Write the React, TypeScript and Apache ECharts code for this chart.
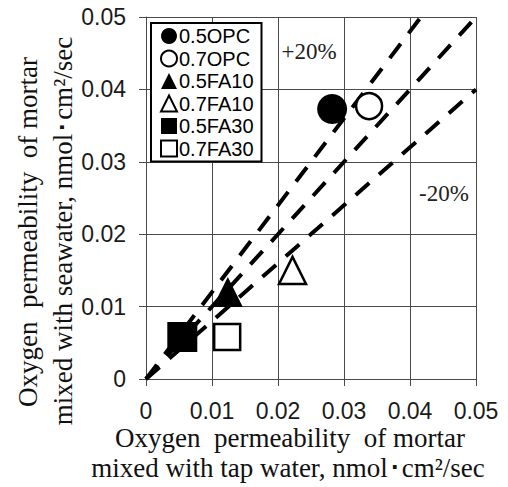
import React, { useEffect, useRef } from "react";
import * as echarts from "echarts";

// Mix names and measured oxygen permeability (nmol·cm²/sec)
const mixNames = ["0.5OPC", "0.7OPC", "0.5FA10", "0.7FA10", "0.5FA30", "0.7FA30"];
const tapWater = [0.0282, 0.0338, 0.0124, 0.0222, 0.0055, 0.0123];
const seawater = [0.0373, 0.0377, 0.012, 0.015, 0.0058, 0.0058];
const mixSymbols = ["circle", "circle", "triangle", "triangle", "rect", "rect"];
const mixFilled = [true, false, true, false, true, false];

// Reference lines: equality and ±20 %
const refSlopes = [1.2, 1.0, 0.8];
const axisMax = 0.05;
const axisStep = 0.01;

const serif = "'Liberation Serif', 'Times New Roman', serif";
const sans = "'Liberation Sans', Arial, sans-serif";

export default function App() {
  const ref = useRef<HTMLDivElement>(null);

  useEffect(() => {
    if (!ref.current) return;
    const chart = echarts.init(ref.current, undefined, { renderer: "svg" });

    const lineSeries = refSlopes.map((k) => ({
      type: "line",
      name: "ref" + k,
      data: [
        [0, 0],
        [Math.min(axisMax, axisMax / k), Math.min(axisMax, axisMax * k)],
      ],
      symbol: "none",
      silent: true,
      z: 1,
      lineStyle: { color: "#000", width: 4, type: [18, 13], cap: "butt", opacity: 1 },
    }));

    const scatterSeries = mixNames.map((name, i) => ({
      type: "scatter",
      name,
      symbol: mixSymbols[i],
      symbolSize: mixFilled[i] ? 30 : mixSymbols[i] === "triangle" ? 27 : 26,
      data: [[tapWater[i], seawater[i]]],
      z: 3,
      itemStyle: mixFilled[i]
        ? { color: "#000", borderColor: "#000", borderWidth: 0, opacity: 1 }
        : { color: "#fff", borderColor: "#000", borderWidth: 2.5, opacity: 1 },
    }));

    const axisCommon = {
      type: "value",
      min: 0,
      max: axisMax,
      interval: axisStep,
      axisLine: { show: true, lineStyle: { color: "#4a4a4a", width: 1 } },
      axisTick: { show: true, length: 7, inside: false, lineStyle: { color: "#4a4a4a" } },
      splitLine: { show: true, lineStyle: { color: "#4a4a4a", width: 1 } },
      axisLabel: {
        fontFamily: sans,
        fontSize: 23,
        color: "#1a1a1a",
        formatter: (v: number) => (v === 0 ? "0" : v.toFixed(2)),
      },
    };

    chart.setOption({
      animation: false,
      backgroundColor: "#fff",
      grid: { left: 146, right: 32, top: 17, bottom: 108, containLabel: false },
      xAxis: { ...axisCommon, axisLabel: { ...axisCommon.axisLabel, margin: 20 } },
      yAxis: { ...axisCommon, axisLabel: { ...axisCommon.axisLabel, margin: 20 } },
      legend: {
        data: mixNames.map((n, i) => ({ name: n, icon: mixSymbols[i] })),
        orient: "vertical",
        left: 151,
        top: 23,
        itemWidth: 16,
        itemHeight: 16,
        itemGap: 2.5,
        padding: [3, 8, 3, 9],
        borderColor: "#000",
        borderWidth: 2,
        borderRadius: 0,
        backgroundColor: "#fff",
        selectedMode: false,
        itemStyle: { opacity: 1 },
        textStyle: { fontFamily: sans, fontSize: 20, color: "#000", padding: [0, 0, 0, -3] },
      },
      graphic: [
        {
          type: "text",
          x: 309,
          y: 51,
          style: { text: "+20%", font: `23px ${serif}`, fill: "#222", align: "center", verticalAlign: "middle" },
        },
        {
          type: "text",
          x: 444,
          y: 193,
          style: { text: "-20%", font: `23px ${serif}`, fill: "#222", align: "center", verticalAlign: "middle" },
        },
        {
          type: "text",
          x: 290,
          y: 438,
          style: {
            text: "Oxygen  permeability  of mortar",
            font: `27px ${serif}`,
            fill: "#111",
            align: "center",
            verticalAlign: "middle",
          },
        },
        {
          type: "text",
          x: 288,
          y: 468,
          style: {
            text: "mixed with tap water, nmol･cm²/sec",
            font: `27px ${serif}`,
            fill: "#111",
            align: "center",
            verticalAlign: "middle",
          },
        },
        {
          type: "text",
          x: 28,
          y: 232,
          rotation: Math.PI / 2,
          style: {
            text: "Oxygen  permeability  of mortar",
            font: `27px ${serif}`,
            fill: "#111",
            align: "center",
            verticalAlign: "middle",
          },
        },
        {
          type: "text",
          x: 63,
          y: 231,
          rotation: Math.PI / 2,
          style: {
            text: "mixed with seawater, nmol･cm²/sec",
            font: `27px ${serif}`,
            fill: "#111",
            align: "center",
            verticalAlign: "middle",
          },
        },
      ],
      series: [...lineSeries, ...scatterSeries],
    });

    return () => chart.dispose();
  }, []);

  return (
    <div
      ref={ref}
      style={{ position: "fixed", left: 0, top: 0, width: 508, height: 487 }}
    />
  );
}
